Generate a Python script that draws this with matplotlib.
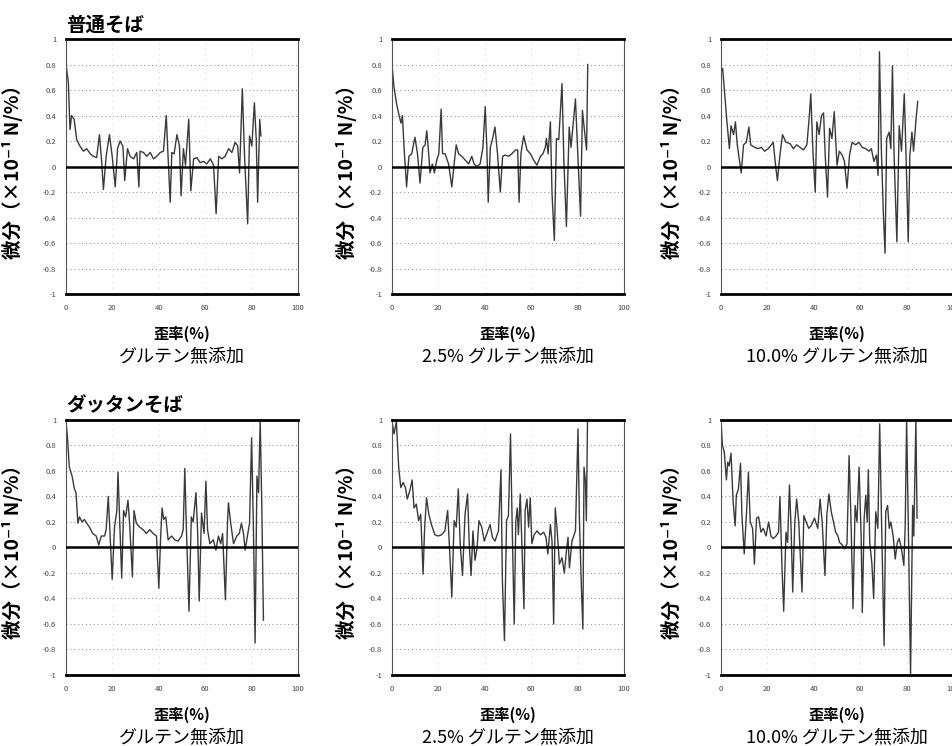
import matplotlib
matplotlib.use('Agg')
import matplotlib.pyplot as plt

plt.rcParams['font.family'] = ['Noto Sans CJK JP', 'DejaVu Sans']

# 普通そば, values (strain %, derivative)
f0_x = [0, 1.0, 1.7, 2.4, 3.5, 4.6, 6.0, 7.5, 8.9, 10.4, 11.8, 13.2, 14.4, 15.4, 16.1, 17.3, 18.7, 19.9, 21.2, 22.2,
        23.3, 24.5, 25.3, 26.5, 27.6, 29.1, 30.5, 31.4, 31.9, 33.4, 34.8, 36.3, 37.7, 39.1, 40.6, 42.0, 43.2, 43.9, 44.9, 45.6,
        46.6, 47.8, 48.9, 49.6, 50.6, 51.5, 52.9, 53.8, 55.0, 56.4, 57.8, 59.3, 60.7, 62.2, 63.6, 64.7, 65.8, 67.2, 68.6, 70.1,
        71.5, 72.9, 74.0, 74.8, 76.0, 77.0, 78.3, 79.1, 80.1, 81.2, 82.0, 82.6, 83.5, 84.0]
f0_y = [0.80, 0.66, 0.29, 0.40, 0.37, 0.21, 0.16, 0.12, 0.14, 0.10, 0.08, 0.07, 0.25, 0.03, -0.18, 0.08, 0.25, 0.08, -0.16, 0.14,
        0.20, 0.16, -0.11, 0.14, 0.08, 0.06, 0.11, -0.16, 0.12, 0.11, 0.08, 0.11, 0.06, 0.08, 0.11, 0.12, 0.40, 0.11, -0.28, 0.11,
        0.10, 0.25, 0.16, -0.23, 0.14, 0.01, 0.37, -0.19, 0.06, 0.07, 0.03, 0.04, 0.02, 0.06, 0.01, -0.37, 0.08, 0.06, 0.08, 0.14,
        0.11, 0.19, 0.16, -0.05, 0.61, 0.06, -0.45, 0.24, 0.16, 0.50, 0.21, -0.28, 0.37, 0.24]

f25_x = [0, 0.9, 2.0, 3.2, 3.9, 4.5, 5.2, 6.3, 7.3, 8.5, 9.9, 11.0, 12.1, 13.3, 14.3, 15.0, 15.7, 16.4, 17.4, 18.3,
         19.3, 20.2, 21.2, 21.8, 22.9, 24.4, 25.8, 26.8, 27.7, 28.7, 30.1, 31.6, 33.0, 34.4, 35.4, 36.6, 38.0, 39.2, 40.2, 40.9,
         41.5, 42.4, 43.4, 44.4, 45.5, 46.7, 47.7, 48.8, 50.3, 51.7, 53.2, 54.2, 54.8, 55.6, 56.8, 58.2, 59.7, 61.1, 62.5, 64.0,
         65.1, 66.1, 66.6, 67.3, 68.3, 69.0, 70.0, 70.9, 71.9, 73.3, 74.1, 75.2, 76.4, 77.2, 79.1, 80.1, 81.3, 82.1, 83.0, 83.9, 84.4]
f25_y = [0.80, 0.62, 0.49, 0.39, 0.34, 0.40, 0.15, -0.16, 0.08, 0.10, 0.23, 0.10, -0.13, 0.15, 0.17, 0.28, 0.13, -0.05, 0.02, -0.05,
         0.05, 0.10, 0.45, 0.10, 0.10, 0.02, -0.16, 0.02, 0.17, 0.10, 0.08, 0.05, 0.02, 0.08, 0.02, 0.00, 0.02, 0.15, 0.47, 0.15,
         -0.28, 0.15, 0.22, 0.31, 0.10, -0.20, 0.08, 0.09, 0.08, 0.10, 0.13, 0.13, -0.28, 0.10, 0.24, 0.13, 0.10, 0.05, 0.01, 0.08,
         0.10, 0.15, 0.22, 0.10, 0.35, -0.21, -0.58, 0.22, 0.21, 0.65, 0.05, -0.47, 0.31, 0.15, 0.53, 0.10, -0.39, 0.44, 0.28, 0.13, 0.80]

f10_x = [0, 0.7, 1.4, 2.5, 3.6, 4.3, 5.4, 6.2, 7.0, 8.0, 8.7, 9.7, 10.9, 12.0, 12.8, 14.5, 15.9, 17.4, 18.8, 20.3,
         21.7, 22.5, 23.5, 24.3, 25.4, 26.5, 28.0, 29.7, 31.2, 32.6, 34.1, 35.5, 37.0, 38.0, 38.7, 39.6, 40.6, 41.3, 42.3, 43.3,
         44.2, 44.9, 45.9, 46.8, 47.8, 48.8, 50.0, 51.0, 52.2, 53.2, 54.3, 55.4, 56.5, 58.0, 59.4, 60.9, 62.3, 63.8, 64.8, 65.9,
         67.0, 67.7, 68.3, 69.1, 70.0, 70.7, 71.4, 72.5, 73.2, 73.9, 74.6, 75.8, 76.8, 77.8, 79.0, 79.7, 80.7, 81.4, 82.3, 83.0,
         84.1, 84.8]
f10_y = [0.74, 0.77, 0.61, 0.36, 0.14, 0.32, 0.25, 0.35, 0.17, 0.04, -0.05, 0.17, 0.19, 0.31, 0.17, 0.15, 0.14, 0.15, 0.12, 0.14,
         0.17, 0.19, 0.01, -0.11, 0.09, 0.25, 0.19, 0.18, 0.14, 0.17, 0.15, 0.13, 0.17, 0.38, 0.57, 0.12, -0.20, 0.35, 0.25, 0.40,
         0.42, 0.09, -0.24, 0.30, 0.22, 0.43, 0.01, 0.12, 0.09, 0.04, -0.17, 0.09, 0.19, 0.17, 0.19, 0.15, 0.14, 0.12, 0.14, 0.04,
         0.09, -0.07, 0.90, 0.14, -0.38, -0.68, 0.22, 0.27, 0.14, 0.79, 0.09, -0.59, 0.32, 0.12, 0.57, 0.12, -0.59, 0.09, 0.27, 0.12,
         0.38, 0.51]

# ダッタンそば
d0_x = [0, 0.7, 1.4, 2.6, 3.6, 4.3, 5.1, 5.8, 6.9, 7.9, 8.9, 10.1, 11.5, 13.0, 14.1, 15.2, 16.6, 17.3, 18.2, 19.0,
        19.9, 20.9, 21.9, 22.4, 23.1, 24.0, 24.8, 25.7, 26.7, 27.4, 28.6, 29.3, 30.3, 31.7, 33.2, 34.6, 36.1, 37.5, 39.0, 40.0,
        40.8, 41.4, 42.1, 43.0, 44.0, 45.5, 46.9, 48.3, 49.8, 50.5, 51.2, 51.9, 53.0, 54.0, 54.8, 56.0, 56.7, 57.4, 58.4, 59.5,
        60.3, 61.0, 62.0, 63.5, 64.6, 65.7, 66.7, 67.5, 68.7, 69.6, 70.0, 71.0, 72.2, 73.6, 74.7, 75.6, 76.5, 77.2, 78.2, 79.1,
        80.0, 80.8, 81.5, 82.3, 83.0, 83.7, 84.4, 85.1]
d0_y = [0.99, 0.84, 0.63, 0.56, 0.46, 0.43, 0.19, 0.24, 0.20, 0.22, 0.19, 0.16, 0.11, 0.09, 0.02, 0.09, 0.09, 0.14, 0.40, 0.09,
        -0.25, 0.16, 0.29, 0.59, 0.22, -0.24, 0.29, 0.24, 0.37, 0.19, -0.23, 0.29, 0.19, 0.16, 0.14, 0.11, 0.14, 0.11, 0.09, -0.32,
        0.09, 0.31, 0.22, 0.24, 0.06, 0.09, 0.06, 0.05, 0.09, 0.14, 0.62, 0.14, -0.50, 0.24, 0.20, 0.43, 0.14, -0.42, 0.27, 0.11,
        0.52, 0.14, 0.03, 0.06, -0.02, 0.09, 0.03, 0.11, -0.41, 0.19, 0.35, 0.19, 0.03, 0.09, 0.11, 0.19, 0.11, -0.02, 0.09, 0.19,
        0.86, 0.14, -0.75, 0.56, 0.43, 1.00, 0.32, -0.57]

d25_x = [0, 0.9, 1.9, 2.9, 3.8, 4.8, 5.8, 6.6, 7.6, 8.7, 9.5, 10.5, 11.5, 12.4, 13.4, 14.1, 14.9, 15.9, 17.0, 18.5,
         19.9, 21.4, 22.8, 24.0, 24.8, 25.8, 26.8, 27.7, 28.6, 29.4, 30.4, 31.5, 32.6, 33.3, 34.1, 34.9, 35.8, 36.7, 37.5, 38.7,
         39.8, 41.3, 42.3, 43.3, 44.4, 45.9, 47.0, 47.6, 48.5, 49.4, 50.2, 51.1, 51.9, 52.7, 53.4, 54.0, 54.5, 55.3, 56.0, 56.9,
         57.4, 58.2, 58.9, 59.6, 60.3, 61.3, 62.5, 63.9, 65.4, 66.4, 67.2, 68.3, 69.0, 69.7, 70.4, 71.1, 72.2, 73.3, 74.3, 75.2,
         75.9, 76.5, 77.6, 79.1, 80.2, 80.8, 81.7, 82.3, 82.8, 83.4, 83.8, 84.3]
d25_y = [0.99, 0.89, 0.99, 0.63, 0.47, 0.51, 0.47, 0.38, 0.44, 0.53, 0.31, 0.34, 0.21, 0.26, -0.21, 0.16, 0.39, 0.26, 0.18, 0.10,
         0.09, 0.10, 0.13, 0.29, 0.00, -0.39, 0.21, 0.16, 0.46, 0.03, -0.22, 0.26, 0.42, 0.03, -0.22, 0.13, -0.10, 0.00, 0.21, 0.16,
         0.05, 0.13, 0.18, 0.08, 0.05, 0.13, 0.61, -0.26, -0.73, 0.21, 0.25, 0.89, 0.10, -0.60, 0.21, 0.31, 0.10, 0.42, 0.03, -0.48,
         0.29, 0.38, 0.16, 0.39, 0.03, 0.10, 0.13, 0.10, 0.12, 0.08, -0.05, 0.18, 0.05, -0.60, 0.31, 0.16, -0.13, -0.08, -0.20, -0.03,
         0.08, -0.16, 0.05, 0.13, 0.93, 0.23, -0.34, -0.64, 0.63, 0.52, 0.21, 0.99]

d10_x = [0, 0.6, 1.4, 2.3, 2.9, 3.5, 4.3, 5.2, 6.1, 6.6, 7.5, 8.4, 9.0, 10.0, 11.0, 11.8, 12.6, 13.6, 14.4, 15.3,
         16.2, 17.2, 18.2, 19.4, 20.5, 21.5, 22.5, 23.7, 24.8, 25.4, 26.3, 27.0, 28.0, 28.7, 29.5, 30.2, 30.9, 31.8, 32.6, 33.5,
         34.9, 35.7, 36.7, 37.8, 38.8, 40.3, 41.7, 42.7, 43.6, 44.8, 45.6, 46.5, 47.5, 48.5, 49.4, 50.4, 51.1, 52.3, 53.3, 54.3,
         55.2, 56.0, 56.9, 57.8, 58.6, 59.5, 60.4, 60.9, 61.7, 62.4, 63.0, 63.5, 64.1, 65.0, 65.8, 66.7, 67.6, 68.4, 69.2, 70.3,
         71.0, 71.8, 72.5, 73.2, 74.2, 75.1, 76.0, 76.8, 77.8, 78.8, 79.4, 80.0, 80.9, 81.7, 82.6, 83.1, 84.0, 84.5]
d10_y = [0.99, 0.80, 0.75, 0.53, 0.67, 0.64, 0.74, 0.36, 0.17, 0.41, 0.46, 0.66, 0.25, -0.05, 0.28, 0.59, 0.20, 0.15, -0.13, 0.23,
         0.24, 0.12, 0.15, 0.09, 0.20, 0.09, 0.07, 0.09, 0.12, 0.40, -0.17, -0.50, 0.12, 0.04, 0.49, 0.15, -0.35, 0.20, 0.38, 0.20,
         -0.35, 0.25, 0.20, 0.15, 0.17, 0.23, 0.15, 0.38, 0.20, -0.22, 0.25, 0.42, 0.28, 0.20, 0.12, 0.09, 0.04, 0.02, -0.01, 0.03,
         0.72, 0.23, -0.48, 0.33, 0.20, 0.63, 0.09, -0.51, 0.23, 0.41, 0.20, 0.61, 0.04, -0.12, -0.40, 0.28, 0.15, 0.97, 0.20, -0.77,
         0.28, 0.33, 0.15, 0.20, 0.09, -0.09, 0.04, 0.07, -0.01, -0.14, 0.17, 1.00, -0.01, -1.00, 0.33, 0.09, 1.00, 0.23]

panels = [(f0_x, f0_y), (f25_x, f25_y), (f10_x, f10_y),
          (d0_x, d0_y), (d25_x, d25_y), (d10_x, d10_y)]
captions = ['グルテン無添加', '2.5% グルテン無添加', '10.0% グルテン無添加'] * 2
row_titles = ['普通そば', 'ダッタンそば']

xticks = [0, 20, 40, 60, 80, 100]
yticks = [-1, -0.8, -0.6, -0.4, -0.2, 0, 0.2, 0.4, 0.6, 0.8, 1]
ytick_labels = ['-1', '-0.8', '-0.6', '-0.4', '-0.2', '0', '0.2', '0.4', '0.6', '0.8', '1']

fig = plt.figure(figsize=(9.53, 7.46), dpi=100)
lefts = [0.0693, 0.4113, 0.7566]
bottoms = [0.6059, 0.0952]
w, h = 0.2434, 0.3418
ylab_x = [-0.185, -0.15, -0.168]

for i, (xs, ys) in enumerate(panels):
    r, c = divmod(i, 3)
    ax = fig.add_axes([lefts[c], bottoms[r], w, h])
    ax.set_xlim(0, 100)
    ax.set_ylim(-1, 1)

    # faint dotted grid like the scan
    for yv in yticks[1:-1]:
        if yv != 0:
            ax.axhline(yv, color='#9a9a9a', lw=0.8, ls=(0, (1, 2.5)), zorder=1)
    for xv in xticks[1:-1]:
        ax.axvline(xv, color='#c8c8c8', lw=0.6, ls=(0, (1, 6)), zorder=1)
    ax.axhline(0, color='black', lw=1.8, zorder=3)

    ax.plot(xs, ys, color='#3a3a3a', lw=1.0, zorder=2)

    ax.set_xticks(xticks)
    ax.set_yticks(yticks)
    ax.set_yticklabels(ytick_labels)
    ax.tick_params(length=0, labelsize=5.5, colors='#444444', pad=7)
    ax.spines['top'].set_linewidth(2)
    ax.spines['bottom'].set_linewidth(2)
    ax.spines['left'].set_linewidth(0.8)
    ax.spines['right'].set_linewidth(0.8)
    ax.spines['left'].set_color('#555555')
    ax.spines['right'].set_color('#555555')

    ax.set_ylabel('微分（×10⁻¹ N/%）', fontsize=14, fontweight='bold')
    ax.yaxis.set_label_coords(ylab_x[c], 0.5)
    ax.text(0.5, -0.157, '歪率(%)', transform=ax.transAxes, ha='center', va='center',
            fontsize=11, fontweight='bold')
    ax.text(0.5, -0.245, captions[i], transform=ax.transAxes, ha='center', va='center', fontsize=13)

    if c == 0:
        ax.text(0.0, 1.055, row_titles[r], transform=ax.transAxes, ha='left', va='center',
                fontsize=14, fontweight='bold')

fig.savefig('out.png', dpi=100, facecolor='white')
